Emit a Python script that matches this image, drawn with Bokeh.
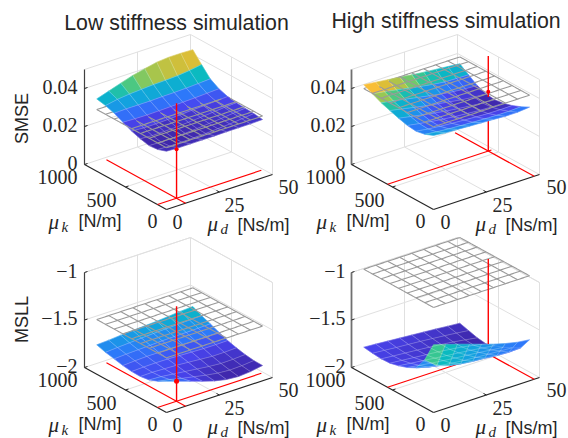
from bokeh.plotting import figure
from bokeh.models import Range1d, ColumnDataSource
from bokeh.core.properties import value
from bokeh.embed import file_html
from bokeh.resources import INLINE
import math

titles = ["Low stiffness simulation", "High stiffness simulation"]
row_labels = ["SMSE", "MSLL"]
k_ticks = ["0", "500", "1000"]
d_ticks = ["0", "25", "50"]
z_ticks_top = [(0, "0"), (0.02, "0.02"), (0.04, "0.04")]
z_ticks_bot = [(-2, "\u22122"), (-1.5, "\u22121.5"), (-1, "\u22121")]

# rows: mu_k low -> high, columns: mu_d low -> high
smse_low = [
 [.0269,.0266,.0266,.0266,.0266,.0267,.0267,.0267,.0269],
 [.0253,.0250,.0250,.0252,.0254,.0258,.0262,.0268,.0275],
 [.0248,.0246,.0248,.0250,.0255,.0260,.0265,.0272,.0278],
 [.0259,.0255,.0256,.0258,.0262,.0267,.0272,.0278,.0282],
 [.0274,.0270,.0270,.0272,.0275,.0279,.0282,.0286,.0289],
 [.0296,.0293,.0292,.0293,.0295,.0297,.0299,.0302,.0305],
 [.0318,.0320,.0320,.0320,.0322,.0323,.0325,.0328,.0332],
 [.0333,.0345,.0352,.0356,.0360,.0362,.0365,.0372,.0382],
 [.0343,.0363,.0384,.0404,.0418,.0432,.0437,.0437,.0435],
]
smse_high = [
 [.0352,.0345,.0342,.0338,.0335,.0332,.0328,.0328,.0334],
 [.0333,.0325,.0320,.0316,.0313,.0310,.0308,.0308,.0311],
 [.0324,.0315,.0308,.0303,.0299,.0295,.0292,.0291,.0292],
 [.0329,.0318,.0308,.0300,.0293,.0288,.0283,.0280,.0279],
 [.0342,.0330,.0318,.0307,.0297,.0289,.0282,.0276,.0272],
 [.0357,.0345,.0332,.0320,.0309,.0299,.0289,.0282,.0278],
 [.0373,.0362,.0350,.0338,.0326,.0315,.0306,.0300,.0297],
 [.0395,.0385,.0374,.0362,.0350,.0340,.0332,.0330,.0328],
 [.0417,.0410,.0402,.0395,.0386,.0379,.0373,.0367,.0361],
]
msll_low = [
 [-1.746,-1.788,-1.829,-1.872,-1.910,-1.937,-1.947,-1.937,-1.915],
 [-1.797,-1.820,-1.850,-1.875,-1.900,-1.920,-1.930,-1.925,-1.913],
 [-1.833,-1.840,-1.855,-1.870,-1.885,-1.900,-1.910,-1.908,-1.900],
 [-1.847,-1.845,-1.850,-1.855,-1.865,-1.875,-1.885,-1.885,-1.880],
 [-1.845,-1.840,-1.838,-1.840,-1.845,-1.850,-1.855,-1.855,-1.853],
 [-1.833,-1.825,-1.820,-1.820,-1.820,-1.820,-1.820,-1.820,-1.816],
 [-1.813,-1.805,-1.800,-1.795,-1.790,-1.787,-1.785,-1.782,-1.778],
 [-1.794,-1.785,-1.778,-1.770,-1.763,-1.757,-1.752,-1.746,-1.741],
 [-1.766,-1.759,-1.748,-1.740,-1.733,-1.726,-1.715,-1.704,-1.696],
]
msll_high = [
 [-1.363,-1.402,-1.440,-1.482,-1.524,-1.565,-1.600,-1.628,-1.644],
 [-1.572,-1.674,-1.715,-1.739,-1.754,-1.763,-1.777,-1.784,-1.779],
 [-1.706,-1.740,-1.765,-1.782,-1.795,-1.805,-1.813,-1.821,-1.829],
 [-1.753,-1.772,-1.790,-1.806,-1.820,-1.832,-1.845,-1.860,-1.874],
 [-1.785,-1.800,-1.815,-1.830,-1.845,-1.858,-1.872,-1.890,-1.908],
 [-1.808,-1.820,-1.832,-1.844,-1.856,-1.871,-1.888,-1.912,-1.938],
 [-1.813,-1.824,-1.835,-1.846,-1.857,-1.870,-1.885,-1.905,-1.925],
 [-1.804,-1.815,-1.826,-1.836,-1.846,-1.858,-1.870,-1.884,-1.899],
 [-1.791,-1.800,-1.810,-1.820,-1.830,-1.840,-1.850,-1.862,-1.872],
]
plane_z = [0.0287, 0.0397, -1.5, -0.97]
opt_k = [110, 560, 110, 560]
opt_d = [9, 47.5, 9, 47.5]
opt_z = [0.0258, 0.0312, -1.79, -1.895]
split_z = [0.0, 0.0285, -2.0, -1.895]
clims = [(.0246, .0436), (.0272, .0414), (-1.947, -1.52), (-1.938, -1.266)]
marker_sizes = [4, 4, 5, 0]

parula = [(62,38,168),(72,68,238),(45,120,250),(20,160,225),(8,185,195),
          (60,200,140),(150,200,85),(215,190,55),(250,190,55),(249,251,21)]

K0, K1 = 100, 950
D0, D1 = 3.85, 49.15
N = 8


def pcolor(t):
    t = max(0, min(1, t)) ** 1.4 * (len(parula) - 1)
    i = min(int(t), len(parula) - 2)
    f = t - i
    a, b = parula[i], parula[i + 1]
    return "#%02x%02x%02x" % tuple(int(round(a[c] + f * (b[c] - a[c]))) for c in range(3))


p = figure(width=568, height=438, x_range=Range1d(0, 568), y_range=Range1d(438, 0),
           x_axis_location=None, y_axis_location=None, toolbar_location=None,
           output_backend="svg", min_border=0, outline_line_color=None,
           background_fill_color="white")
p.grid.visible = False

DARK = "#262626"
LIGHT = "#e0e0e0"
SERIF = "Liberation Serif"
SANS = "Liberation Sans"


def txt(x, y, s, font=SERIF, size=20, align="center", style="normal", angle=0, color=DARK):
    p.text([x], [y], text=[s], text_font=value(font), text_font_size=f"{size}px",
           text_align=align, text_baseline="middle", text_font_style=style,
           text_color=color, angle=angle)


def panel(idx, dx, dy, Z, zmin, zmax, zticks):
    ox, oy = 166 + dx, 209 + dy
    zs = 95.0 / (zmax - zmin)

    def P(k, d, z):
        kk, dd = k / 1000.0, d / 50.0
        return (ox - 82 * kk + 106 * dd, oy - 45 * kk - 35 * dd - (z - zmin) * zs)

    def line(a, b, color, width=1.0, alpha=1.0):
        A, B = P(*a), P(*b)
        p.line([A[0], B[0]], [A[1], B[1]], line_color=color, line_width=width, line_alpha=alpha)

    # back walls and floor grid
    for z, _ in zticks:
        line((1000, 0, z), (1000, 50, z), LIGHT)
        line((1000, 50, z), (0, 50, z), LIGHT)
    line((1000, 0, zmax), (1000, 50, zmax), LIGHT)
    line((1000, 50, zmax), (0, 50, zmax), LIGHT)
    line((1000, 25, zmin), (1000, 25, zmax), LIGHT)
    line((500, 50, zmin), (500, 50, zmax), LIGHT)
    line((1000, 50, zmin), (1000, 50, zmax), LIGHT)
    line((0, 50, zmin), (0, 50, zmax), LIGHT)
    line((500, 0, zmin), (500, 50, zmin), LIGHT)
    line((0, 25, zmin), (1000, 25, zmin), LIGHT)
    # axes
    if dx:
        line((1000, 0, zmin), (1000, 0, zmax), "#707070", 1.8)
    else:
        line((1000, 0, zmin), (1000, 0, zmax), "#404040", 1.2)
    line((1000, 0, zmin), (0, 0, zmin), DARK, 1.2)
    line((0, 0, zmin), (0, 50, zmin), DARK, 1.2)
    for z, _ in zticks:
        a = P(1000, 0, z)
        p.line([a[0], a[0] + 3], [a[1], a[1] - 1], line_color=DARK, line_width=1)
    for k in (500,):
        a = P(k, 0, zmin)
        p.line([a[0], a[0] + 3], [a[1], a[1] - 1], line_color=DARK, line_width=1)
    a = P(0, 25, zmin)
    p.line([a[0], a[0] - 3], [a[1], a[1] - 1.5], line_color=DARK, line_width=1)

    # red construction lines under the surface
    ks, ds = opt_k[idx], opt_d[idx]
    line((ks, 0, zmin), (ks, 49, zmin), "#ff0000", 1.2)
    line((0, ds, zmin), (965, ds, zmin), "#ff0000", 1.2)
    if split_z[idx] > zmin:
        line((ks, ds, zmin), (ks, ds, split_z[idx]), "#ff0000", 1.4)

    ks_nodes = [K0 + (K1 - K0) * i / N for i in range(N + 1)]
    ds_nodes = [D0 + (D1 - D0) * j / N for j in range(N + 1)]

    def surf_at(k, d):
        u = min(N - 1e-6, max(0, (k - K0) / (K1 - K0) * N))
        v = min(N - 1e-6, max(0, (d - D0) / (D1 - D0) * N))
        i, j = int(u), int(v)
        fu, fv = u - i, v - j
        return ((1 - fu) * (1 - fv) * Z[i][j] + fu * (1 - fv) * Z[i + 1][j]
                + (1 - fu) * fv * Z[i][j + 1] + fu * fv * Z[i + 1][j + 1])

    # plane wireframe, divided into parts below and above the surface
    below_x, below_y, above_x, above_y = [], [], [], []
    pz = plane_z[idx]
    M = 8
    segs = []
    for a in range(M + 1):
        kv = K0 + (K1 - K0) * a / M
        dv = D0 + (D1 - D0) * a / M
        segs.append(((kv, D0), (kv, D1)))
        segs.append(((K0, dv), (K1, dv)))
    for (k1, d1), (k2, d2) in segs:
        S = 60
        cur = None
        run = []
        for s in range(S + 1):
            k = k1 + (k2 - k1) * s / S
            d = d1 + (d2 - d1) * s / S
            up = pz >= surf_at(k, d)
            xy = P(k, d, pz)
            if cur is None or up == cur:
                run.append(xy)
            else:
                run.append(xy)
                (above_x if cur else below_x).append([q[0] for q in run])
                (above_y if cur else below_y).append([q[1] for q in run])
                run = [xy]
            cur = up
        (above_x if cur else below_x).append([q[0] for q in run])
        (above_y if cur else below_y).append([q[1] for q in run])
    PLANE = "#9a9a9a"
    if below_x:
        p.multi_line(below_x, below_y, line_color=PLANE, line_width=1.1)

    # surface cells, far ones first
    cells = []
    lo, hi = clims[idx]
    for i in range(N):
        for j in range(N):
            c = [(i, j), (i + 1, j), (i + 1, j + 1), (i, j + 1)]
            pts = [P(ks_nodes[a], ds_nodes[b], Z[a][b]) for a, b in c]
            mz = sum(Z[a][b] for a, b in c) / 4
            depth = i + j
            cells.append((depth, [q[0] for q in pts], [q[1] for q in pts], pcolor((mz - lo) / (hi - lo))))
    cells.sort(key=lambda c: -c[0])
    src = ColumnDataSource(dict(xs=[c[1] for c in cells], ys=[c[2] for c in cells], fc=[c[3] for c in cells]))
    p.patches("xs", "ys", source=src, fill_color="fc", line_color="fc", line_width=0.6)
    p.patches("xs", "ys", source=src, fill_alpha=0, line_color="white", line_alpha=0.22, line_width=0.6)

    if above_x:
        p.multi_line(above_x, above_y, line_color=PLANE, line_width=1.1)

    # red optimum line above the surface and its marker
    line((ks, ds, max(split_z[idx], zmin)), (ks, ds, zmax), "#ff0000", 1.4)
    m = P(ks, ds, opt_z[idx])
    if marker_sizes[idx]:
        p.scatter([m[0]], [m[1]], marker="circle", size=marker_sizes[idx], fill_color="#ff0000", line_color=None)

    # tick labels
    tx = dx + (1 if dx else 0)
    for z, lab in zticks:
        txt(77 + tx, P(1000, 0, z)[1] - 2, lab, align="right")
    ty = dy
    txt(57 + tx, 176 + ty, k_ticks[2])
    txt(101 + tx, 199 + ty, k_ticks[1])
    txt(152 + tx, 220 + ty, k_ticks[0])
    txt(177 + tx, 221 + ty, d_ticks[0])
    txt(234 + tx, 204 + ty, d_ticks[1])
    txt(288 + tx, 186 + ty, d_ticks[2])
    txt(48 + tx, 221 + ty, "\u03bc", size=21, align="left", style="italic")
    txt(61 + tx, 226 + ty, "k", size=15, align="left", style="italic")
    txt(78 + tx, 220 + ty, "[N/m]", font=SANS, size=18, align="left")
    txt(207 + tx, 223 + ty, "\u03bc", size=21, align="left", style="italic")
    txt(220 + tx, 228 + ty, "d", size=15, align="left", style="italic")
    txt(237 + tx, 224 + ty, "[Ns/m]", font=SANS, size=18, align="left")


panel(0, 0, 0, smse_low, 0, 0.05, z_ticks_top)
panel(1, 267, 0, smse_high, 0, 0.05, z_ticks_top)
panel(2, 0, 203, msll_low, -2, -1, z_ticks_bot)
panel(3, 267, 203, msll_high, -2, -1, z_ticks_bot)

txt(176, 22, titles[0], font=SANS, size=21.3)
txt(445.5, 20, titles[1], font=SANS, size=21.3)
txt(21, 118, row_labels[0], font=SANS, size=18, angle=math.pi / 2)
txt(21, 319, row_labels[1], font=SANS, size=18, angle=math.pi / 2)

open("out.html", "w").write(file_html(p, INLINE))
